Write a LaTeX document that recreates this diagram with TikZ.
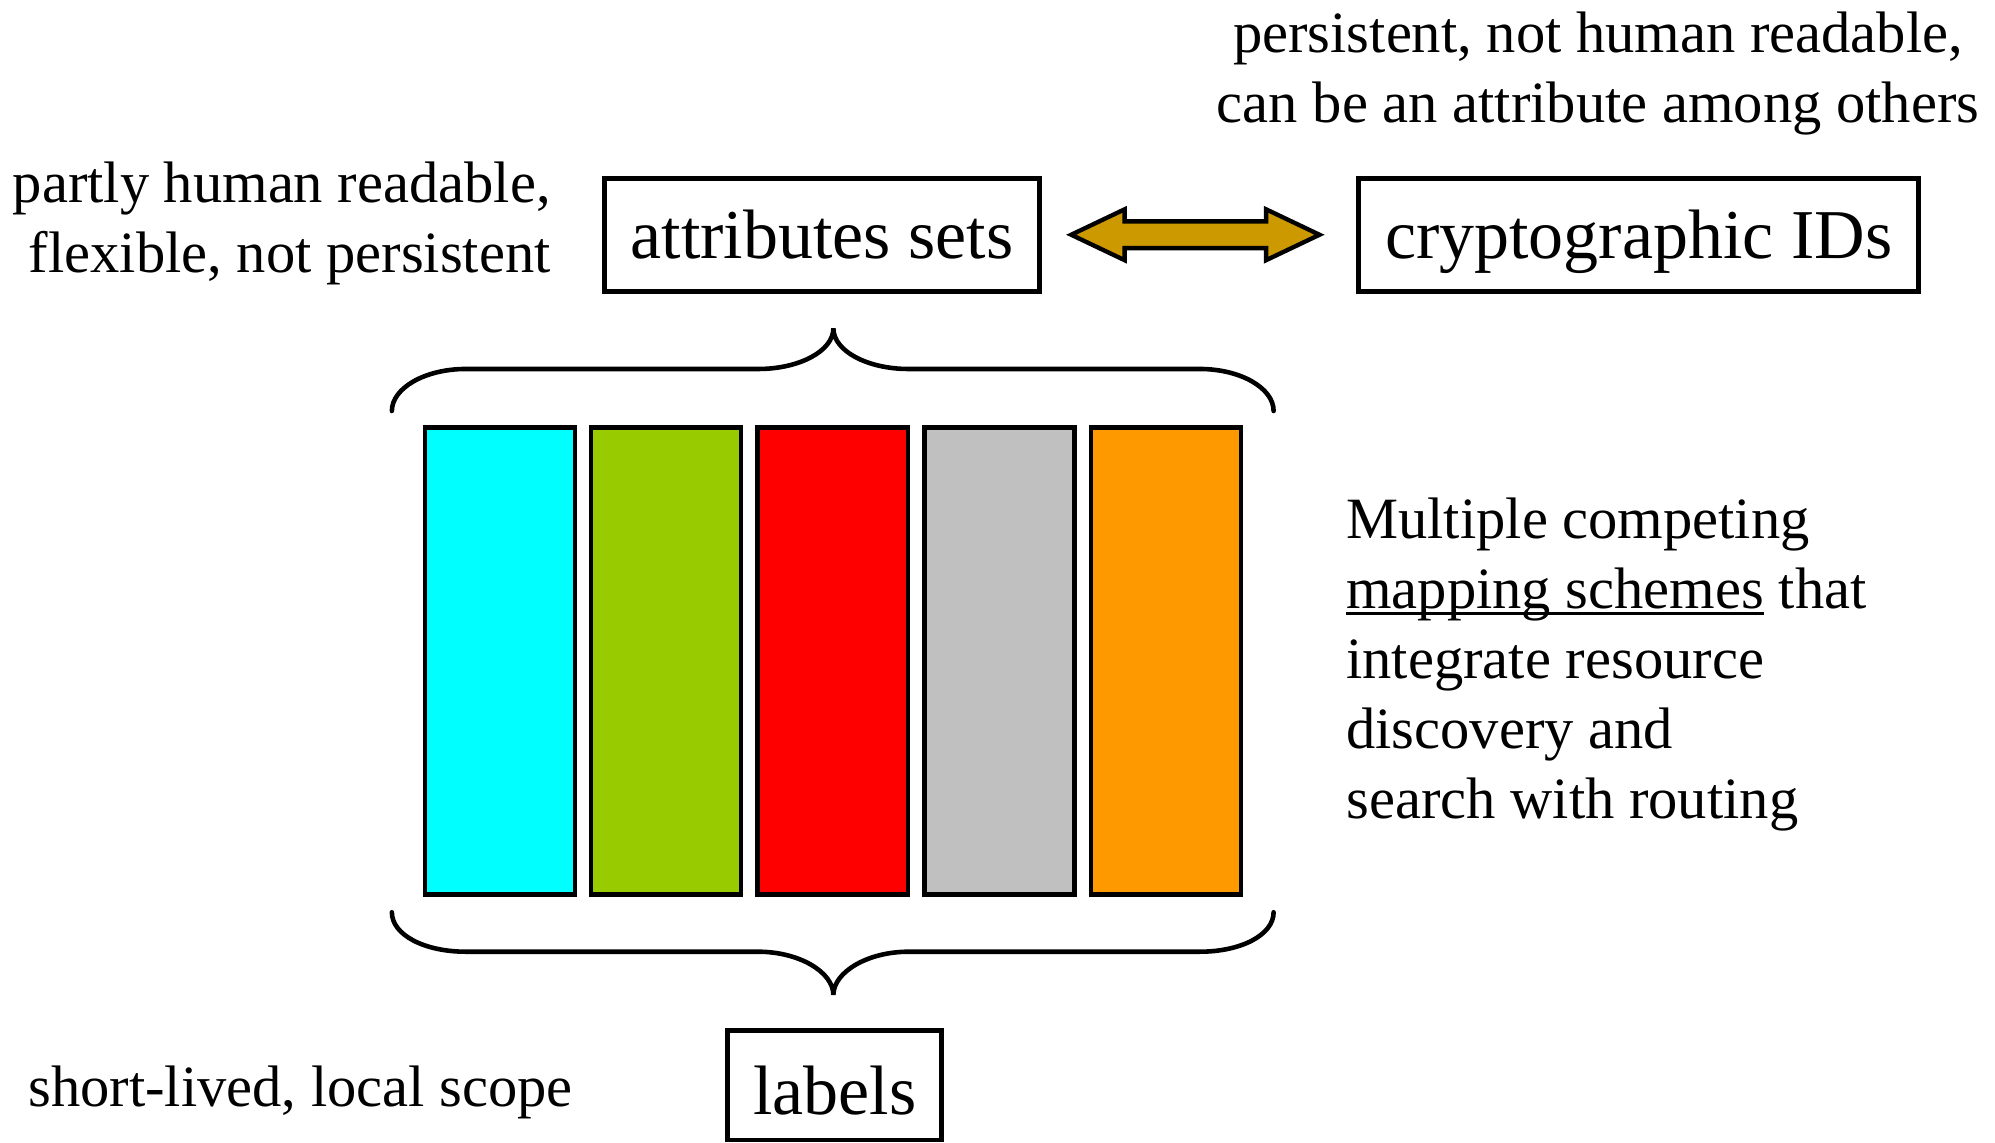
\documentclass[tikz,border=0pt]{standalone}
\usepackage{fontspec}
\setmainfont{Liberation Serif}
\usetikzlibrary{calc}
\definecolor{cyanbar}{HTML}{00FFFF}
\definecolor{greenbar}{HTML}{99CC00}
\definecolor{redbar}{HTML}{FF0000}
\definecolor{graybar}{HTML}{C0C0C0}
\definecolor{orangebar}{HTML}{FF9900}
\definecolor{linkgold}{HTML}{CC9900}
% underline that sits just under the baseline
\newcommand{\undl}[1]{\leavevmode\setbox0=\hbox{#1}\rlap{\rule[-0.11em]{\wd0}{0.045em}}\box0 }
\begin{document}
\begin{tikzpicture}[x=1pt,y=-1pt,
  bigtext/.style={font=\fontsize{55}{66}\selectfont},
  smalltext/.style={font=\fontsize{46}{55}\selectfont, inner sep=0pt},
  idbox/.style={draw, line width=3.8pt, inner sep=0pt, bigtext,
    text height=38pt, text depth=0pt},
  bar/.style={draw, line width=3.6pt, minimum width=118pt, minimum height=367pt, inner sep=0pt},
  curly/.style={line width=3.6pt, line cap=round},
  link/.style={draw, line width=3.4pt, fill=linkgold, line join=miter}]
\useasboundingbox (0,0) rectangle (1568,898);

% identifier boxes
\node[idbox, minimum width=342pt, minimum height=89pt] (attr) at (646,184.5) {attributes sets};
\node[idbox, minimum width=440pt, minimum height=89pt] (crypto) at (1288,184.5) {cryptographic IDs};
\node[idbox, minimum width=168pt, minimum height=86pt, text height=46pt] (lbl) at (656,853) {labels};

% double-headed link between attributes and cryptographic IDs
\coordinate (la) at ($(attr.east)+(23,0)$);
\coordinate (lb) at ($(crypto.west)+(-29,0)$);
\path[link] (la) -- ++(42,-20) -- ++(0,9.5) -- ($(lb)+(-42,-10.5)$) -- ++(0,-9.5)
  -- (lb) -- ++(-42,20) -- ++(0,-9.5) -- ($(la)+(42,10.5)$) -- ++(0,9.5) -- cycle;

% mapping scheme bars
\node[bar, fill=cyanbar]   (bar1) at (393,519.5) {};
\node[bar, fill=greenbar]  (bar2) at (523.5,519.5) {};
\node[bar, fill=redbar]    (bar3) at (654.5,519.5) {};
\node[bar, fill=graybar]   (bar4) at (785.5,519.5) {};
\node[bar, fill=orangebar] (bar5) at (916.5,519.5) {};

% upper brace
\draw[curly] (308,323) .. controls (308,305) and (334,290) .. (366,290)
  -- (596,290) .. controls (628,290) and (655,276) .. (655,258)
  .. controls (655,276) and (682,290) .. (714,290)
  -- (943,290) .. controls (975,290) and (1001,305) .. (1001,323);
% lower brace
\draw[curly] (308,717) .. controls (308,735) and (334,748) .. (366,748)
  -- (596,748) .. controls (628,748) and (655,764) .. (655,782)
  .. controls (655,764) and (682,748) .. (714,748)
  -- (943,748) .. controls (975,748) and (1001,735) .. (1001,717);

% annotations (base anchor = baseline of the last line)
\node[smalltext, align=center, anchor=base] (cryptonote) at (1256,96)
  {persistent, not human readable,\\can be an attribute among others};
\node[smalltext, align=right, anchor=base east] (attrnote) at (433,214)
  {partly human readable,\\flexible, not persistent};
\node[smalltext, anchor=base west] (lblnote) at (22,870) {short-lived, local scope};
\node[smalltext, align=left, anchor=base west] (mapnote) at (1058,643)
  {Multiple competing\\\undl{mapping schemes} that\\integrate resource\\discovery and\\search with routing};
\end{tikzpicture}
\end{document}
